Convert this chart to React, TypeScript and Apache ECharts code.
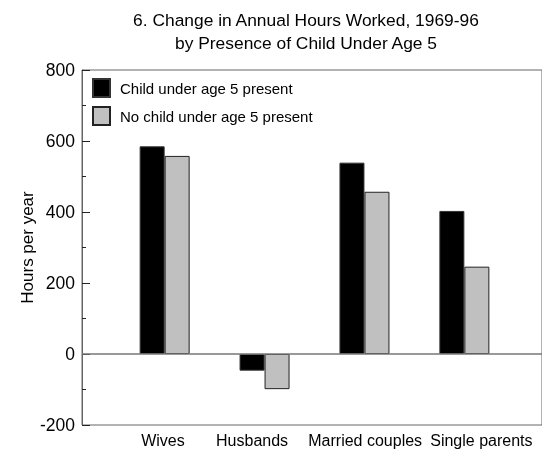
import React, { useEffect, useRef } from "react";
import * as echarts from "echarts";

const titleLines = ["6. Change in Annual Hours Worked, 1969-96", "by Presence of Child Under Age 5"];
const categories = ["Wives", "Husbands", "Married couples", "Single parents"];
const seriesNames = ["Child under age 5 present", "No child under age 5 present"];
const childUnder5 = [585, -47, 539, 403];
const noChildUnder5 = [558, -99, 457, 246];
const yMin = -200;
const yMax = 800;
const yInterval = 200;
const yName = "Hours per year";

// layout: where category labels sit along the x axis (axis units)
const labelSlots = [0.983, 1.875, 3.007, 4.17];

export default function App() {
  const ref = useRef<HTMLDivElement>(null);
  useEffect(() => {
    document.body.style.margin = "0";
    const chart = echarts.init(ref.current!, null, { renderer: "svg" });
    const font = '"Liberation Sans", Arial, sans-serif';
    chart.setOption({
      animation: false,
      textStyle: { fontFamily: font, color: "#000" },
      graphic: [
        {
          type: "text",
          x: 306,
          y: 8,
          style: {
            text: titleLines.join("\n"),
            font: `17.4px ${font}`,
            fill: "#000",
            textAlign: "center",
            textVerticalAlign: "top",
            lineHeight: 23,
          },
        },
      ],
      grid: {
        left: 82,
        right: -2,
        top: 70,
        bottom: 24,
        show: true,
        borderColor: "#666",
        borderWidth: 1,
        backgroundColor: "transparent",
      },
      legend: {
        orient: "vertical",
        left: 87,
        top: 73,
        itemWidth: 17,
        itemHeight: 18,
        itemGap: 8,
        icon: "rect",
        textStyle: { fontSize: 15, color: "#000", padding: [0, 0, 0, 5] },
        data: seriesNames,
      },
      xAxis: {
        type: "value",
        min: 0.1727,
        max: 4.777,
        axisLine: { show: false },
        axisTick: { show: false },
        splitLine: { show: false },
        axisLabel: {
          customValues: labelSlots,
          fontSize: 16,
          color: "#000",
          margin: 7,
          formatter: (v: number) => categories[Math.round(v) - 1] ?? "",
        },
      },
      yAxis: {
        type: "value",
        min: yMin,
        max: yMax,
        interval: yInterval,
        name: yName,
        nameLocation: "middle",
        nameGap: 46,
        nameMoveOverlap: false,
        nameTextStyle: { fontSize: 17, color: "#000" },
        axisLine: { show: true, lineStyle: { color: "#666" } },
        axisTick: { show: true, inside: true, length: 8, lineStyle: { color: "#222" } },
        minorTick: { show: true, splitNumber: 2, length: 4, lineStyle: { color: "#222" } },
        splitLine: { show: false },
        axisLabel: { fontSize: 17.5, color: "#000", margin: 7 },
      },
      series: [
        {
          name: seriesNames[0],
          type: "bar",
          barWidth: 25,
          barGap: "0%",
          data: categories.map((_, i) => [i + 1, childUnder5[i]]),
          itemStyle: { color: "#000", borderColor: "#333", borderWidth: 1 },
          markLine: {
            silent: true,
            symbol: "none",
            label: { show: false },
            lineStyle: { color: "#777", type: "solid", width: 1.5 },
            data: [{ yAxis: 0 }],
          },
        },
        {
          name: seriesNames[1],
          type: "bar",
          barWidth: 25,
          barGap: "0%",
          data: categories.map((_, i) => [i + 1, noChildUnder5[i]]),
          itemStyle: { color: "#c0c0c0", borderColor: "#222", borderWidth: 1 },
        },
      ],
    });
    return () => chart.dispose();
  }, []);
  return (
    <div
      ref={ref}
      style={{ position: "fixed", left: 0, top: 0, width: 542, height: 449 }}
    />
  );
}
